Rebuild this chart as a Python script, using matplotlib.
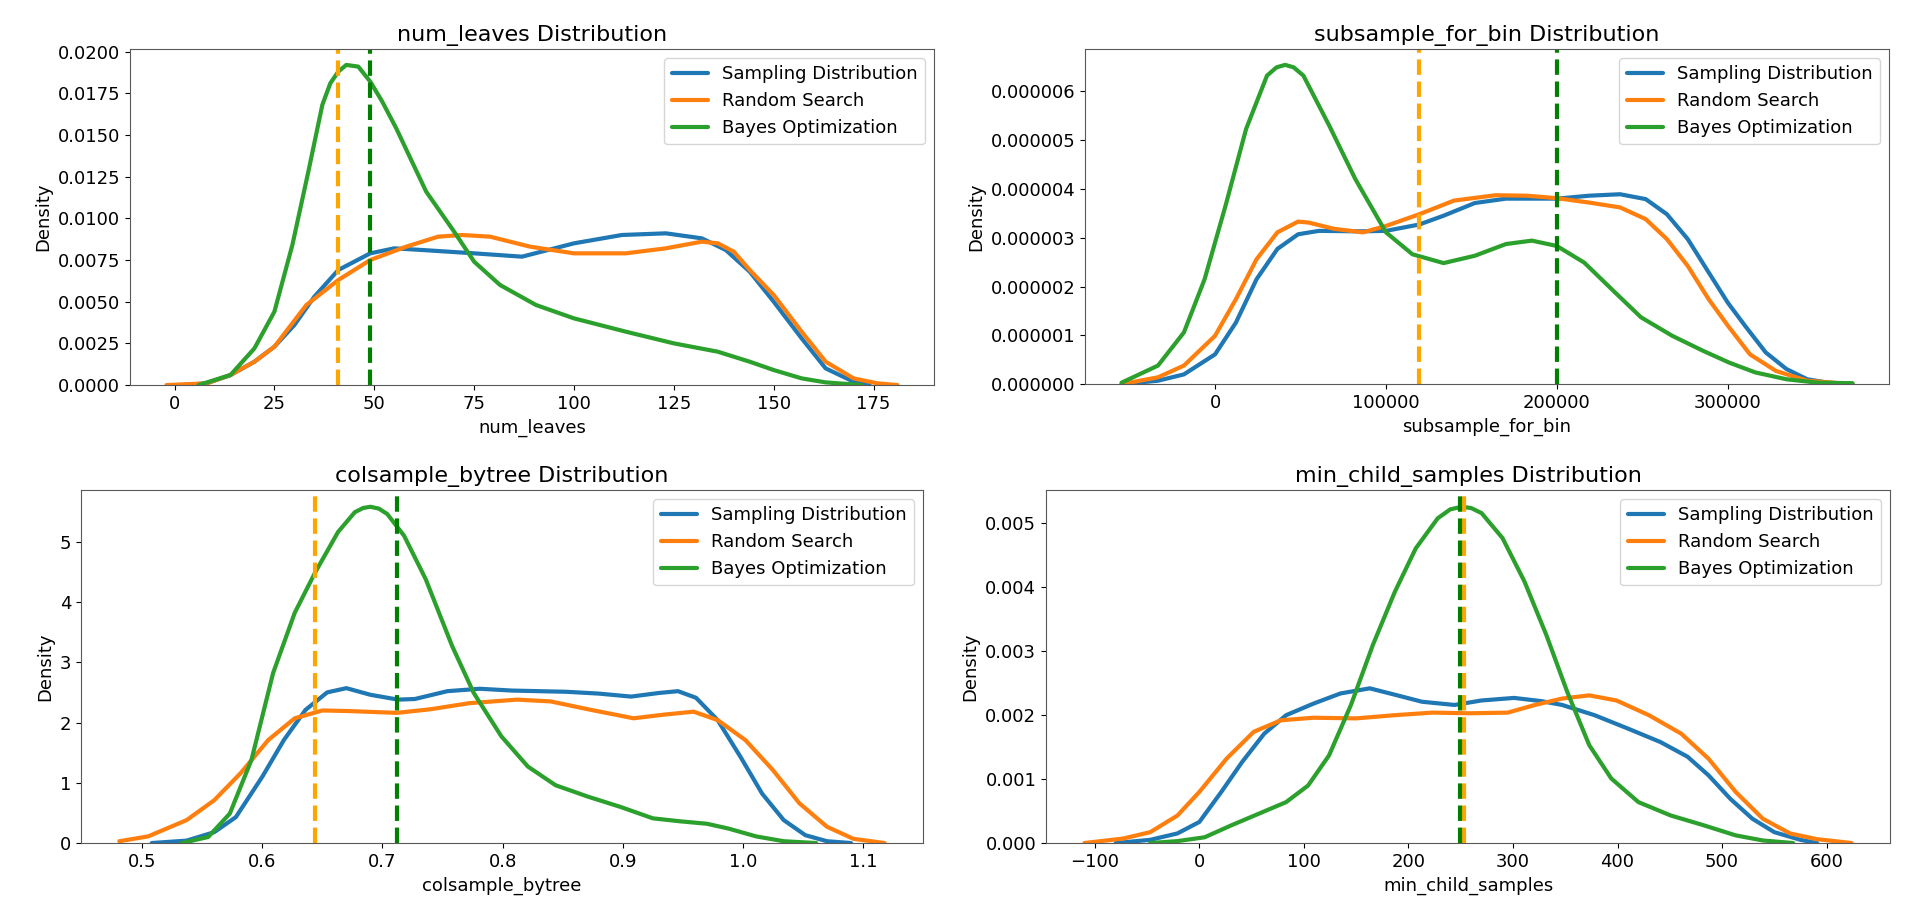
import matplotlib
matplotlib.use('Agg')
import matplotlib.pyplot as plt
from matplotlib.ticker import FormatStrFormatter

# kde curves (x, density)
leaves_samp_x = [2, 8, 14, 20, 25, 30, 35, 41, 49, 55, 62, 75, 87, 100, 112, 123, 132, 138, 144, 150, 157, 163, 170, 174]
leaves_samp_y = [0.0, 0.0001, 0.0006, 0.0014, 0.0023, 0.0036, 0.0053, 0.0069, 0.0079, 0.0082, 0.0081, 0.0079, 0.0077,
                 0.0085, 0.0090, 0.0091, 0.0088, 0.0081, 0.0068, 0.0050, 0.0028, 0.0010, 0.0002, 0.0]
leaves_rand_x = [-2, 8, 14, 20, 25, 33, 41, 49, 58, 66, 72, 79, 89, 100, 113, 123, 132, 136, 140, 144, 150, 157, 163, 170, 176, 181]
leaves_rand_y = [0.0, 0.0001, 0.0006, 0.0014, 0.0023, 0.0048, 0.0063, 0.0075, 0.0083, 0.0089, 0.0090, 0.0089, 0.0083,
                 0.0079, 0.0079, 0.0082, 0.0086, 0.0085, 0.0080, 0.0069, 0.0054, 0.0032, 0.0014, 0.0004, 0.0001, 0.0]
leaves_bayes_x = [6, 14, 20, 25, 29.5, 33.5, 37, 39, 41, 43, 46, 49, 52, 55.5, 63, 70, 75, 81.5, 90.5, 100, 113, 125, 136, 144,
                  150, 157, 163, 172]
leaves_bayes_y = [0.0, 0.0006, 0.0022, 0.0044, 0.0084, 0.0128, 0.0168, 0.0181, 0.0188, 0.0192, 0.0191, 0.0182, 0.0170, 0.0154,
                  0.0116, 0.0092, 0.0074, 0.0060, 0.0048, 0.0040, 0.0032, 0.0025, 0.0020, 0.0014, 0.0009, 0.0004, 0.00016, 0.0]

bin_samp_x = [-54700, -33400, -18200, 0, 12200, 24300, 36500, 48600, 60800, 85100, 100000, 119500, 133700, 152000, 170200,
              200000, 218800, 237000, 252000, 264400, 276600, 288800, 300000, 310000, 322200, 334300, 346500, 358700, 373000]
bin_samp_y = [0.0, 0.07e-6, 0.2e-6, 0.61e-6, 1.26e-6, 2.15e-6, 2.77e-6, 3.07e-6, 3.14e-6, 3.13e-6, 3.14e-6, 3.27e-6, 3.45e-6,
              3.71e-6, 3.80e-6, 3.80e-6, 3.86e-6, 3.89e-6, 3.79e-6, 3.48e-6, 2.97e-6, 2.29e-6, 1.67e-6, 1.20e-6, 0.65e-6,
              0.31e-6, 0.10e-6, 0.03e-6, 0.0]
bin_rand_x = [-54700, -33400, -18200, 0, 12200, 24300, 36500, 48600, 54700, 69900, 86600, 100000, 119500, 139800, 164100,
              182400, 200000, 218800, 237000, 252000, 264400, 276600, 288800, 300000, 313000, 328200, 346500, 373000]
bin_rand_y = [0.0, 0.14e-6, 0.38e-6, 0.99e-6, 1.74e-6, 2.56e-6, 3.11e-6, 3.33e-6, 3.31e-6, 3.18e-6, 3.11e-6, 3.24e-6, 3.48e-6,
              3.76e-6, 3.87e-6, 3.86e-6, 3.81e-6, 3.72e-6, 3.62e-6, 3.38e-6, 2.97e-6, 2.42e-6, 1.74e-6, 1.20e-6, 0.61e-6,
              0.27e-6, 0.07e-6, 0.0]
bin_bayes_x = [-54700, -33400, -18200, -6100, 6100, 18200, 30400, 36000, 41000, 46000, 51700, 66900, 82100, 100000, 115500,
               133700, 152000, 170200, 185400, 200000, 216000, 234000, 249200, 267500, 285700, 300900, 316100, 334300,
               352600, 373000]
bin_bayes_y = [0.03e-6, 0.38e-6, 1.06e-6, 2.15e-6, 3.65e-6, 5.23e-6, 6.32e-6, 6.49e-6, 6.54e-6, 6.49e-6, 6.32e-6, 5.29e-6,
               4.20e-6, 3.11e-6, 2.66e-6, 2.48e-6, 2.63e-6, 2.87e-6, 2.94e-6, 2.83e-6, 2.49e-6, 1.88e-6, 1.37e-6, 0.99e-6,
               0.68e-6, 0.44e-6, 0.24e-6, 0.10e-6, 0.03e-6, 0.02e-6]

col_samp_x = [0.508, 0.537, 0.560, 0.578, 0.600, 0.618, 0.636, 0.654, 0.670, 0.690, 0.713, 0.727, 0.754, 0.781, 0.808, 0.853,
              0.880, 0.907, 0.930, 0.946, 0.961, 0.979, 0.998, 1.016, 1.034, 1.052, 1.070, 1.090]
col_samp_y = [0.0, 0.04, 0.18, 0.43, 1.10, 1.71, 2.21, 2.50, 2.57, 2.46, 2.38, 2.39, 2.52, 2.56, 2.53, 2.51, 2.48, 2.43, 2.49,
              2.52, 2.41, 2.04, 1.43, 0.82, 0.38, 0.13, 0.03, 0.0]
col_rand_x = [0.481, 0.505, 0.537, 0.560, 0.582, 0.605, 0.627, 0.650, 0.672, 0.712, 0.740, 0.772, 0.812, 0.840, 0.871, 0.909,
              0.934, 0.959, 0.979, 1.002, 1.025, 1.047, 1.070, 1.092, 1.118]
col_rand_y = [0.03, 0.11, 0.38, 0.71, 1.16, 1.71, 2.07, 2.20, 2.19, 2.16, 2.22, 2.32, 2.38, 2.35, 2.22, 2.07, 2.13, 2.18, 2.04,
              1.71, 1.21, 0.66, 0.27, 0.07, 0.0]
col_bayes_x = [0.533, 0.555, 0.573, 0.591, 0.609, 0.627, 0.644, 0.663, 0.677, 0.684, 0.690, 0.697, 0.704, 0.718, 0.736, 0.758,
               0.776, 0.799, 0.821, 0.844, 0.871, 0.898, 0.925, 0.948, 0.970, 0.988, 1.011, 1.034, 1.061]
col_bayes_y = [0.0, 0.10, 0.49, 1.38, 2.82, 3.82, 4.49, 5.16, 5.49, 5.56, 5.58, 5.55, 5.46, 5.10, 4.38, 3.27, 2.49, 1.77, 1.27,
               0.96, 0.77, 0.60, 0.41, 0.36, 0.32, 0.24, 0.11, 0.03, 0.0]

child_samp_x = [-80, -47, -21, 0, 21, 41, 62, 83, 109, 135, 163, 187, 213, 244, 270, 301, 327, 347, 378, 410, 441, 467, 487,
                508, 529, 550, 575, 591]
child_samp_y = [0.0, 0.05e-3, 0.15e-3, 0.33e-3, 0.80e-3, 1.27e-3, 1.71e-3, 2.00e-3, 2.18e-3, 2.34e-3, 2.42e-3, 2.32e-3, 2.21e-3,
                2.16e-3, 2.23e-3, 2.27e-3, 2.22e-3, 2.16e-3, 2.00e-3, 1.79e-3, 1.58e-3, 1.35e-3, 1.06e-3, 0.69e-3, 0.38e-3,
                0.17e-3, 0.05e-3, 0.0]
child_rand_x = [-110, -73, -47, -21, 0, 26, 52, 78, 109, 150, 187, 223, 259, 295, 321, 347, 373, 399, 430, 461, 487, 513, 539,
                565, 591, 624]
child_rand_y = [0.0, 0.07e-3, 0.17e-3, 0.43e-3, 0.80e-3, 1.32e-3, 1.74e-3, 1.92e-3, 1.96e-3, 1.95e-3, 2.00e-3, 2.04e-3, 2.03e-3,
                2.04e-3, 2.16e-3, 2.26e-3, 2.31e-3, 2.23e-3, 2.00e-3, 1.71e-3, 1.32e-3, 0.80e-3, 0.38e-3, 0.15e-3, 0.06e-3, 0.0]
child_bayes_x = [-47, -21, 5, 31, 57, 83, 104, 124, 145, 166, 187, 207, 228, 240, 251, 260, 270, 290, 311, 332, 352, 373, 394,
                 420, 451, 482, 513, 539, 568]
child_bayes_y = [0.0, 0.03e-3, 0.09e-3, 0.28e-3, 0.46e-3, 0.64e-3, 0.90e-3, 1.37e-3, 2.16e-3, 3.10e-3, 3.93e-3, 4.61e-3, 5.08e-3,
                 5.22e-3, 5.26e-3, 5.24e-3, 5.16e-3, 4.77e-3, 4.09e-3, 3.25e-3, 2.36e-3, 1.53e-3, 1.01e-3, 0.64e-3, 0.43e-3,
                 0.28e-3, 0.12e-3, 0.04e-3, 0.0]

# best values found by each search
best_random = [41, 119500, 0.644, 253]
best_bayes = [49, 200000, 0.712, 249]

params = ['num_leaves', 'subsample_for_bin', 'colsample_bytree', 'min_child_samples']
curves = [
    [(leaves_samp_x, leaves_samp_y), (leaves_rand_x, leaves_rand_y), (leaves_bayes_x, leaves_bayes_y)],
    [(bin_samp_x, bin_samp_y), (bin_rand_x, bin_rand_y), (bin_bayes_x, bin_bayes_y)],
    [(col_samp_x, col_samp_y), (col_rand_x, col_rand_y), (col_bayes_x, col_bayes_y)],
    [(child_samp_x, child_samp_y), (child_rand_x, child_rand_y), (child_bayes_x, child_bayes_y)],
]
labels = ['Sampling Distribution', 'Random Search', 'Bayes Optimization']
colors = ['#1f77b4', '#ff7f0e', '#2ca02c']
yfmt = ['%.4f', '%.6f', None, '%.3f']

# axes rectangles in figure fractions
rects = [
    [0.0677, 0.575, 0.4188, 0.371],
    [0.5651, 0.576, 0.4188, 0.370],
    [0.0422, 0.0695, 0.4385, 0.3897],
    [0.5448, 0.0695, 0.4396, 0.3897],
]

fig = plt.figure(figsize=(19.2, 9.06), dpi=100)
for i, p in enumerate(params):
    ax = fig.add_axes(rects[i])
    for (x, y), lab, c in zip(curves[i], labels, colors):
        ax.plot(x, y, color=c, lw=3, label=lab, solid_joinstyle='round', solid_capstyle='round')
    ax.axvline(best_random[i], color='orange', ls='--', lw=3)
    ax.axvline(best_bayes[i], color='green', ls='--', lw=3)
    ax.set_ylim(bottom=0)
    if yfmt[i]:
        ax.yaxis.set_major_formatter(FormatStrFormatter(yfmt[i]))
    ax.set_title(f'{p} Distribution', fontsize=16)
    ax.set_xlabel(p, fontsize=13)
    ax.set_ylabel('Density', fontsize=13)
    ax.tick_params(labelsize=13)
    for s in ax.spines.values():
        s.set_color('0.35')
    ax.legend(loc='upper right', fontsize=13)

fig.savefig('out.png', dpi=100)
